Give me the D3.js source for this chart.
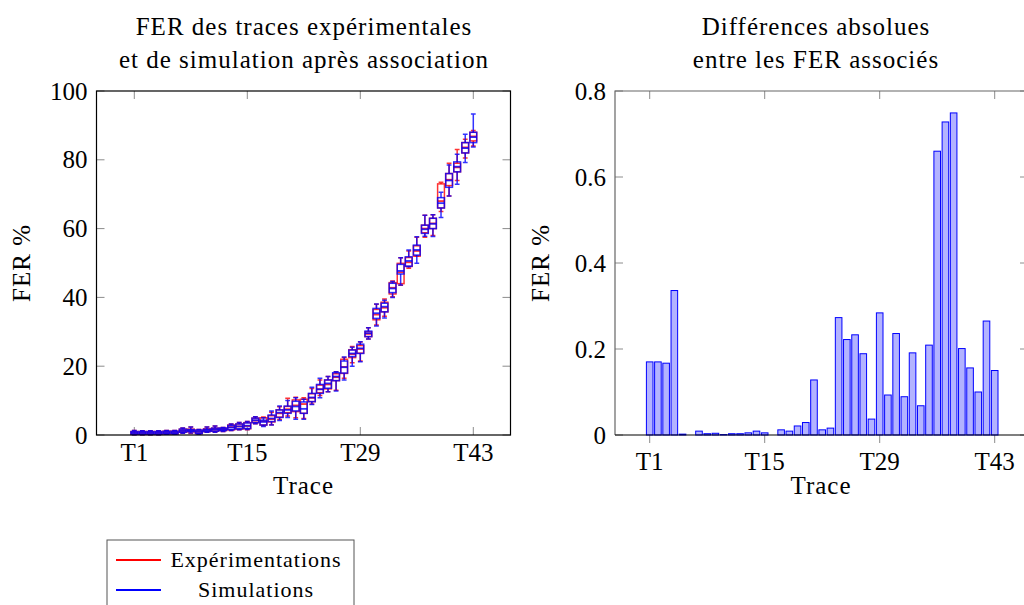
<!DOCTYPE html>
<html>
<head>
<meta charset="utf-8">
<script src="https://cdn.jsdelivr.net/npm/d3@7"></script>
<style>
  body { margin: 0; background: #fff; }
  text { font-family: "Liberation Serif", "Times New Roman", serif; fill: #000; }
  .wide { letter-spacing: 1px; }
</style>
</head>
<body>
<div class="chart"></div>
<script>
(function () {

  var width = 1024, height = 605;

  // trace names T1..T43
  var traces = ["T1","T2","T3","T4","T5","T6","T7","T8","T9","T10","T11","T12","T13","T14","T15",
    "T16","T17","T18","T19","T20","T21","T22","T23","T24","T25","T26","T27","T28","T29","T30",
    "T31","T32","T33","T34","T35","T36","T37","T38","T39","T40","T41","T42","T43"];
  var xTickLabels = ["T1", "T15", "T29", "T43"];
  var leftYTicks = [0, 20, 40, 60, 80, 100];
  var rightYTicks = [0, 0.2, 0.4, 0.6, 0.8];

  // experimental FER (red boxes) : whisker low, q1, median, q3, whisker high
  var expLow  = [0.1,0.1,0.1,0.1,0.2,0.2,0.5,0.4,0.2,0.8,0.8,1.0,1.3,1.5,1.5,3.3,2.7,3.0,4.5,5.5,5.0,4.8,9.0,11.5,12.6,13.0,16.5,21.0,21.5,27.9,32.0,34.5,40.2,43.5,48.5,52.0,57.5,58.0,65.0,69.5,74.0,80.5,84.0];
  var expQ1   = [0.2,0.2,0.2,0.2,0.3,0.3,0.8,0.9,0.4,1.0,1.1,1.3,1.5,1.7,1.8,3.6,2.9,3.8,5.2,6.5,6.8,6.3,9.7,12.3,13.4,15.8,17.9,22.5,23.8,28.6,33.5,35.8,41.0,44.0,49.0,52.0,58.8,60.0,66.0,72.5,76.5,82.0,85.5];
  var expMed  = [0.6,0.6,0.6,0.6,0.7,0.7,1.2,1.3,0.9,1.5,1.6,1.7,2.3,2.5,2.6,4.2,4.0,4.6,6.3,7.5,8.6,9.0,10.8,13.3,14.7,16.8,19.8,23.5,25.0,29.4,35.0,37.0,42.8,47.3,50.2,53.5,60.0,61.5,68.0,74.2,77.8,83.6,86.8];
  var expQ3   = [1.0,1.0,1.0,1.0,1.1,1.1,1.7,1.7,1.4,1.8,2.0,2.0,2.9,3.2,3.6,4.9,5.0,5.6,7.3,8.3,10.2,10.4,12.0,14.5,16.0,17.8,22.0,24.8,26.0,30.0,36.5,38.6,44.3,49.9,51.6,55.0,61.0,63.0,73.0,76.0,79.0,85.0,88.0];
  var expHigh = [1.3,1.2,1.2,1.2,1.3,1.3,2.0,2.3,1.6,2.3,2.6,2.2,3.2,3.6,3.9,5.3,5.2,6.6,8.2,10.7,11.0,10.8,13.5,16.0,17.0,18.4,22.5,25.7,27.0,31.2,38.0,39.5,44.8,51.5,53.5,57.5,63.9,64.0,73.5,79.0,83.0,86.0,88.5];

  // simulated FER (blue boxes)
  var simLow  = [0.1,0.1,0.1,0.1,0.2,0.2,0.5,0.6,0.2,0.8,0.8,1.0,1.3,1.5,1.6,3.3,2.5,2.9,4.2,5.1,4.6,4.6,8.9,10.8,12.6,12.8,16.0,20.0,21.3,27.9,31.7,34.0,40.0,43.6,48.9,49.9,57.8,57.7,63.2,69.5,72.9,79.2,83.7];
  var simQ1   = [0.2,0.2,0.2,0.2,0.3,0.3,0.8,1.0,0.4,1.0,1.1,1.3,1.6,1.8,1.9,3.6,2.9,3.9,5.1,6.3,7.0,6.3,9.7,12.1,13.6,15.8,18.0,22.8,23.7,28.6,33.9,35.8,41.4,46.8,49.1,52.3,58.6,60.0,66.0,72.0,76.5,82.0,85.0];
  var simMed  = [0.6,0.6,0.6,0.6,0.7,0.7,1.2,1.3,0.9,1.4,1.6,1.6,2.2,2.5,2.7,4.3,3.8,4.8,6.5,7.3,8.3,7.6,10.9,13.3,15.0,17.0,19.7,23.7,25.2,29.6,35.4,37.3,42.6,47.7,50.6,53.8,59.8,61.4,67.4,74.0,78.0,83.4,86.6];
  var simQ3   = [1.0,1.0,1.0,1.0,1.1,1.1,1.7,1.6,1.4,1.7,2.0,2.0,2.8,3.2,3.5,4.9,4.3,5.8,7.3,8.4,9.8,9.6,12.1,14.7,16.0,18.1,21.5,24.7,26.4,30.2,36.8,38.3,44.1,49.6,51.8,55.2,61.0,63.0,69.0,76.0,79.4,85.0,88.0];
  var simHigh = [1.3,1.2,1.2,1.2,1.3,1.3,2.0,2.3,1.6,2.3,2.6,2.2,3.2,3.6,3.9,5.3,5.0,7.0,8.4,10.0,10.8,10.4,13.9,16.5,17.0,18.4,22.7,25.5,27.1,31.2,38.1,39.2,44.6,51.5,53.8,57.6,63.9,64.0,70.6,78.5,81.6,87.4,93.3];

  // absolute differences between associated FER
  var absDiff = [0.170,0.170,0.167,0.336,0.002,0.000,0.009,0.003,0.004,0.001,0.003,0.003,0.005,0.009,0.005,
    0.000,0.012,0.009,0.021,0.029,0.128,0.012,0.016,0.273,0.222,0.233,0.189,0.037,0.284,0.093,
    0.236,0.089,0.191,0.068,0.209,0.660,0.728,0.749,0.201,0.156,0.100,0.265,0.150];

  var legendNames = ["Expérimentations", "Simulations"];
  var legendColors = ["#ff0000", "#0000ff"];

  var svg = d3.select(".chart")
    .append("svg")
    .attr("width", width)
    .attr("height", height);

  // frame boxes of both plots
  var leftBox = { x0: 96.5, x1: 510.5, y0: 91, y1: 435 };
  var rightBox = { x0: 615, x1: 1028, y0: 91, y1: 435 };
  var tickLen = 8;

  function traceIndex(d) { return traces.indexOf(d) + 1; }

  // ---------------- left chart : box plots ----------------
  var xL = d3.scaleLinear().domain([1, 43]).range([134.3, 473.3]);
  var yL = d3.scaleLinear().domain([0, 100]).range([leftBox.y1, leftBox.y0]);

  var left = svg.append("g").attr("class", "leftchart");

  // ticks inside the frame (all four sides)
  var lt = left.append("g").attr("stroke", "#8c8c8c").attr("stroke-width", 1);
  lt.selectAll(".yt").data(leftYTicks).enter().append("path")
    .attr("d", function (d) {
      var y = yL(d);
      return "M" + leftBox.x0 + "," + y + "h" + tickLen + "M" + leftBox.x1 + "," + y + "h" + (-tickLen);
    });
  lt.selectAll(".xt").data(xTickLabels).enter().append("path")
    .attr("d", function (d) {
      var x = xL(traceIndex(d));
      return "M" + x + "," + leftBox.y1 + "v" + (-tickLen) + "M" + x + "," + leftBox.y0 + "v" + tickLen;
    });

  // boxes for one series
  function drawBoxes(g, low, q1, med, q3, high, color) {
    var bw = 6.8, cw = 4.8;
    var grp = g.append("g")
      .attr("stroke", color)
      .attr("fill", "none")
      .attr("stroke-width", 1.5)
      .attr("stroke-opacity", 0.8);
    var items = grp.selectAll("g").data(traces).enter().append("g");
    items.append("path")
      .attr("d", function (d, i) {
        var x = xL(i + 1);
        return "M" + x + "," + yL(q3[i]) + "V" + yL(high[i]) +
          "M" + (x - cw / 2) + "," + yL(high[i]) + "h" + cw +
          "M" + x + "," + yL(q1[i]) + "V" + yL(low[i]) +
          "M" + (x - cw / 2) + "," + yL(low[i]) + "h" + cw;
      });
    items.append("rect")
      .attr("x", function (d, i) { return xL(i + 1) - bw / 2; })
      .attr("width", bw)
      .attr("y", function (d, i) { return yL(q3[i]); })
      .attr("height", function (d, i) { return Math.max(0.5, yL(q1[i]) - yL(q3[i])); });
    items.append("path")
      .attr("stroke-width", 1.8)
      .attr("d", function (d, i) {
        var x = xL(i + 1);
        return "M" + (x - bw / 2) + "," + yL(med[i]) + "h" + bw;
      });
  }

  drawBoxes(left, expLow, expQ1, expMed, expQ3, expHigh, "#ff0000");
  drawBoxes(left, simLow, simQ1, simMed, simQ3, simHigh, "#0000ff");

  // frame
  left.append("rect")
    .attr("x", leftBox.x0).attr("y", leftBox.y0)
    .attr("width", leftBox.x1 - leftBox.x0).attr("height", leftBox.y1 - leftBox.y0)
    .attr("fill", "none").attr("stroke", "#000").attr("stroke-width", 1.2);

  // tick labels
  left.selectAll(".ylab").data(leftYTicks).enter().append("text")
    .attr("x", leftBox.x0 - 9)
    .attr("y", function (d) { return yL(d); })
    .attr("dy", "0.34em")
    .attr("text-anchor", "end")
    .style("font-size", "25px")
    .text(function (d) { return d; });
  left.selectAll(".xlab").data(xTickLabels).enter().append("text")
    .attr("x", function (d) { return xL(traceIndex(d)); })
    .attr("y", 461)
    .attr("text-anchor", "middle")
    .style("font-size", "25px")
    .text(function (d) { return d; });

  left.append("text").attr("class", "wide")
    .attr("x", (leftBox.x0 + leftBox.x1) / 2).attr("y", 494)
    .attr("text-anchor", "middle").style("font-size", "25px")
    .text("Trace");
  left.append("text").attr("class", "wide")
    .attr("transform", "translate(30," + ((leftBox.y0 + leftBox.y1) / 2) + ") rotate(-90)")
    .attr("text-anchor", "middle").style("font-size", "25px")
    .text("FER %");
  left.append("text").attr("class", "wide")
    .attr("x", 304).attr("y", 35)
    .attr("text-anchor", "middle").style("font-size", "25px")
    .text("FER des traces expérimentales");
  left.append("text").attr("class", "wide")
    .attr("x", 304).attr("y", 68)
    .attr("text-anchor", "middle").style("font-size", "25px")
    .text("et de simulation après association");

  // legend
  var legend = svg.append("g").attr("class", "legend");
  legend.append("rect")
    .attr("x", 107).attr("y", 540)
    .attr("width", 247).attr("height", 80)
    .attr("fill", "#fff").attr("stroke", "#555").attr("stroke-width", 1);
  var entries = legend.selectAll(".entry").data(legendNames).enter().append("g")
    .attr("transform", function (d, i) { return "translate(0," + (560 + i * 30) + ")"; });
  entries.append("line")
    .attr("x1", 116).attr("x2", 161)
    .attr("stroke", function (d, i) { return legendColors[i]; })
    .attr("stroke-width", 2.2);
  entries.append("text").attr("class", "wide")
    .attr("x", 256).attr("dy", "0.32em")
    .attr("text-anchor", "middle").style("font-size", "22px")
    .text(function (d) { return d; });

  // ---------------- right chart : bars ----------------
  var xR = d3.scaleLinear().domain([1, 43]).range([649.7, 994.7]);
  var yR = d3.scaleLinear().domain([0, 0.8]).range([rightBox.y1, rightBox.y0]);
  var barW = 6.6;

  var right = svg.append("g").attr("class", "rightchart");

  var rt = right.append("g").attr("stroke", "#8c8c8c").attr("stroke-width", 1);
  rt.selectAll(".yt").data(rightYTicks).enter().append("path")
    .attr("d", function (d) {
      var y = yR(d);
      return "M" + rightBox.x0 + "," + y + "h" + tickLen + "M" + rightBox.x1 + "," + y + "h" + (-tickLen);
    });
  rt.selectAll(".xt").data(xTickLabels).enter().append("path")
    .attr("d", function (d) {
      var x = xR(traceIndex(d));
      return "M" + x + "," + rightBox.y1 + "v" + tickLen + "M" + x + "," + rightBox.y0 + "v" + tickLen;
    });

  right.selectAll(".bar").data(absDiff).enter().append("rect")
    .attr("class", "bar")
    .attr("x", function (d, i) { return xR(i + 1) - barW / 2; })
    .attr("width", barW)
    .attr("y", function (d) { return yR(d); })
    .attr("height", function (d) { return yR(0) - yR(d); })
    .attr("fill", "#b3b3ff")
    .attr("stroke", "#0000ff")
    .attr("stroke-width", 1);

  // frame: gray left/top, black baseline
  right.append("path")
    .attr("d", "M" + rightBox.x0 + "," + rightBox.y1 + "V" + rightBox.y0 + "H" + rightBox.x1 + "V" + rightBox.y1)
    .attr("fill", "none").attr("stroke", "#666").attr("stroke-width", 1.2);
  right.append("line")
    .attr("x1", rightBox.x0).attr("x2", rightBox.x1)
    .attr("y1", rightBox.y1).attr("y2", rightBox.y1)
    .attr("stroke", "#000").attr("stroke-width", 1.2);

  right.selectAll(".ylab").data(rightYTicks).enter().append("text")
    .attr("x", rightBox.x0 - 9)
    .attr("y", function (d) { return yR(d); })
    .attr("dy", "0.34em")
    .attr("text-anchor", "end")
    .style("font-size", "25px")
    .text(function (d) { return d === 0 ? "0" : d3.format(".1f")(d); });
  right.selectAll(".xlab").data(xTickLabels).enter().append("text")
    .attr("x", function (d) { return xR(traceIndex(d)); })
    .attr("y", 470)
    .attr("text-anchor", "middle")
    .style("font-size", "25px")
    .text(function (d) { return d; });

  right.append("text").attr("class", "wide")
    .attr("x", 821).attr("y", 494)
    .attr("text-anchor", "middle").style("font-size", "25px")
    .text("Trace");
  right.append("text").attr("class", "wide")
    .attr("transform", "translate(549," + ((rightBox.y0 + rightBox.y1) / 2) + ") rotate(-90)")
    .attr("text-anchor", "middle").style("font-size", "25px")
    .text("FER %");
  right.append("text").attr("class", "wide")
    .attr("x", 816).attr("y", 35)
    .attr("text-anchor", "middle").style("font-size", "25px")
    .text("Différences absolues");
  right.append("text").attr("class", "wide")
    .attr("x", 816).attr("y", 68)
    .attr("text-anchor", "middle").style("font-size", "25px")
    .text("entre les FER associés");

})();
</script>
</body>
</html>
